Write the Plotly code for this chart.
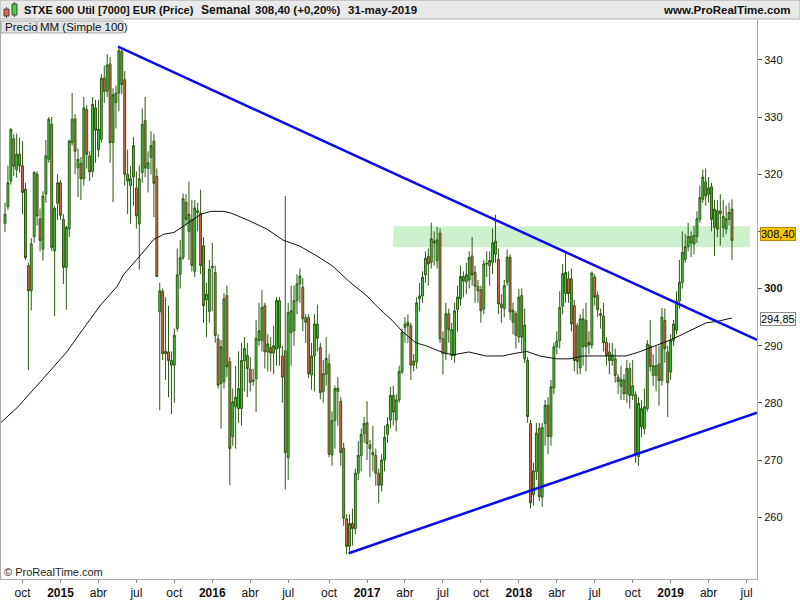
import plotly.graph_objects as go
import pandas as pd

# ---------------- data (weekly candles) ----------------
opens = [311.4, 314.3, 318.8, 326.2, 320.8, 323.5, 321.5, 317.4, 304.0, 299.6,
         309.1, 320.0, 312.2, 306.9, 316.5, 322.6, 328.7, 306.6, 314.9, 318.5,
         312.1, 303.7, 310.4, 325.5, 329.7, 321.1, 321.9, 319.2, 331.3, 323.2,
         320.5, 331.6, 324.3, 326.1, 336.8, 334.5, 339.3, 325.5, 332.5, 334.2,
         341.5, 336.5, 320.0, 318.0, 319.5, 317.6, 311.3, 320.3, 329.4, 321.0,
         322.9, 325.8, 319.6, 295.9, 299.5, 288.6, 288.9, 287.4, 286.6, 293.0,
         302.5, 305.4, 315.1, 310.0, 312.1, 303.0, 313.6, 313.2, 307.5, 298.0,
         296.0, 303.6, 302.8, 291.2, 283.4, 283.7, 298.8, 287.2, 274.1, 279.3,
         279.0, 279.0, 287.4, 288.3, 285.9, 284.0, 284.2, 290.9, 290.9, 297.0,
         288.9, 289.7, 288.7, 289.4, 297.9, 288.2, 289.1, 270.4, 292.3, 292.6,
         297.9, 300.8, 300.2, 294.9, 294.9, 284.9, 288.2, 293.8, 289.7, 282.0,
         285.0, 286.8, 270.9, 276.9, 282.0, 280.3, 272.1, 259.7, 254.9, 258.9,
         258.0, 267.7, 270.8, 274.6, 276.5, 272.7, 271.3, 270.8, 267.7, 265.6,
         270.0, 274.5, 277.0, 281.3, 277.0, 280.5, 285.4, 293.2, 294.1, 293.5,
         286.6, 287.2, 298.2, 298.7, 302.4, 305.6, 304.6, 308.3, 304.9, 309.7,
         291.2, 288.6, 295.6, 288.3, 288.3, 296.3, 298.2, 302.1, 301.2, 301.5,
         305.7, 302.8, 300.4, 299.8, 296.4, 304.3, 304.0, 304.6, 306.0, 305.1,
         297.3, 296.5, 301.1, 305.5, 294.1, 295.6, 291.5, 298.8, 287.7, 287.4,
         276.4, 263.9, 268.0, 275.5, 263.5, 276.4, 279.6, 274.1, 282.6, 289.8,
         290.9, 296.9, 299.1, 301.7, 301.7, 297.0, 293.5, 286.1, 289.8, 294.4,
         290.1, 290.1, 302.0, 298.8, 295.6, 295.2, 290.6, 288.9, 287.4, 287.7,
         284.5, 282.9, 284.0, 281.6, 286.0, 281.3, 281.4, 270.6, 275.8, 275.5,
         279.0, 290.0, 284.8, 284.8, 286.8, 283.9, 294.4, 288.9, 285.4, 290.9,
         292.7, 297.8, 301.1, 305.1, 307.3, 309.1, 307.8, 309.1, 312.1, 315.6,
         318.6, 316.5, 317.8, 310.7, 313.6, 313.6, 310.7, 310.4, 312.1, 313.9]

highs = [315.0, 321.5, 328.1, 327.0, 327.1, 326.4, 325.8, 318.5, 304.5, 308.8,
         320.5, 320.5, 314.0, 317.0, 326.0, 330.0, 330.0, 314.5, 320.0, 319.0,
         313.0, 311.0, 326.0, 334.2, 330.5, 324.5, 323.0, 333.5, 332.0, 324.0,
         333.5, 333.0, 333.0, 337.5, 339.0, 341.0, 340.5, 335.0, 335.5, 342.3,
         342.0, 338.0, 324.3, 321.5, 326.5, 320.5, 321.5, 331.5, 333.5, 324.0,
         327.5, 327.0, 321.0, 301.0, 300.0, 298.5, 297.0, 289.0, 293.0, 307.0,
         308.5, 316.6, 316.5, 318.7, 315.5, 315.5, 315.0, 317.3, 309.0, 301.0,
         305.0, 308.0, 304.0, 292.0, 291.0, 299.2, 300.5, 288.0, 282.5, 286.5,
         289.0, 290.5, 291.5, 290.5, 288.0, 286.0, 294.5, 297.5, 299.7, 297.5,
         292.0, 291.5, 293.5, 298.5, 298.5, 290.0, 316.2, 297.5, 300.5, 300.5,
         302.5, 303.5, 301.8, 295.5, 295.5, 290.5, 295.5, 297.2, 290.5, 287.5,
         291.5, 288.5, 278.5, 283.0, 284.5, 281.0, 273.0, 260.5, 260.5, 261.5,
         268.5, 273.3, 275.5, 277.5, 280.3, 273.5, 276.0, 272.0, 268.5, 271.0,
         276.0, 277.5, 282.8, 283.0, 281.5, 286.5, 293.0, 295.0, 295.5, 294.0,
         288.5, 298.5, 301.0, 303.0, 306.5, 307.0, 311.5, 310.0, 310.8, 310.5,
         292.5, 297.5, 296.5, 294.0, 297.5, 300.5, 304.0, 303.0, 304.5, 306.5,
         309.0, 304.0, 301.5, 300.5, 305.0, 306.5, 306.5, 310.5, 312.9, 307.0,
         299.0, 301.5, 306.8, 306.0, 297.5, 296.0, 299.9, 300.0, 296.5, 288.0,
         277.0, 269.5, 276.5, 276.5, 276.5, 280.5, 281.0, 284.0, 290.5, 292.5,
         299.5, 304.3, 306.5, 303.0, 303.5, 298.0, 294.0, 295.5, 296.5, 297.5,
         292.5, 303.0, 302.5, 299.5, 296.5, 297.5, 291.5, 290.5, 290.5, 289.5,
         285.0, 286.5, 285.0, 287.5, 287.0, 287.5, 282.0, 281.0, 280.5, 282.5,
         291.0, 294.5, 288.5, 290.0, 290.0, 296.6, 296.5, 290.0, 292.0, 294.5,
         299.5, 305.0, 310.0, 309.5, 311.5, 310.0, 311.0, 313.5, 318.0, 320.8,
         321.0, 319.5, 318.5, 315.5, 315.5, 316.5, 315.5, 314.5, 315.0, 315.6]

lows = [309.9, 313.8, 318.2, 319.7, 319.4, 320.3, 313.0, 305.0, 285.7, 296.2,
        308.0, 311.0, 306.5, 304.9, 315.0, 322.0, 306.5, 295.2, 312.0, 312.0,
        300.8, 296.3, 309.0, 325.0, 320.0, 316.0, 315.5, 318.0, 321.0, 318.8,
        319.5, 322.0, 323.0, 325.5, 332.5, 333.5, 322.0, 315.1, 328.0, 331.0,
        334.0, 318.0, 313.0, 311.3, 314.5, 310.5, 303.3, 318.5, 319.5, 316.8,
        320.0, 312.5, 302.0, 278.7, 287.5, 284.0, 281.0, 278.0, 280.0, 292.5,
        300.0, 305.0, 311.0, 305.0, 303.0, 302.0, 310.0, 302.5, 294.0, 291.5,
        294.0, 296.0, 290.5, 282.5, 275.5, 282.5, 284.5, 265.6, 272.5, 272.0,
        276.5, 276.0, 282.0, 281.0, 282.0, 283.0, 278.4, 290.0, 289.0, 286.0,
        285.5, 285.5, 285.0, 286.5, 286.5, 280.0, 264.8, 266.5, 286.5, 290.0,
        295.5, 297.5, 292.5, 290.5, 284.3, 282.3, 282.0, 289.0, 280.6, 280.0,
        283.0, 270.5, 269.0, 272.0, 276.0, 269.0, 258.5, 253.5, 254.0, 255.0,
        257.0, 266.5, 268.0, 273.0, 270.0, 267.0, 268.0, 265.5, 262.5, 264.5,
        268.0, 273.0, 275.5, 276.0, 275.0, 280.0, 285.0, 290.5, 290.5, 284.0,
        285.5, 286.0, 296.0, 297.5, 301.0, 300.5, 303.5, 304.0, 303.5, 290.5,
        285.0, 287.5, 290.5, 287.5, 287.0, 292.5, 297.0, 298.5, 299.0, 300.0,
        300.5, 297.5, 297.5, 294.0, 295.5, 302.0, 300.5, 302.5, 304.5, 295.5,
        294.0, 295.0, 300.5, 294.5, 292.0, 289.5, 290.5, 289.0, 287.0, 276.5,
        261.5, 262.0, 266.5, 262.8, 261.8, 272.5, 271.0, 272.5, 281.5, 288.5,
        289.5, 295.5, 297.5, 297.5, 292.5, 285.5, 285.0, 285.0, 286.5, 285.5,
        288.5, 289.5, 297.0, 295.0, 293.0, 289.0, 286.5, 285.0, 286.5, 283.5,
        281.5, 280.5, 280.5, 280.0, 279.0, 280.5, 269.5, 269.0, 274.0, 274.5,
        278.5, 285.5, 283.0, 282.0, 279.5, 283.0, 287.0, 277.5, 284.0, 290.0,
        292.0, 296.5, 300.0, 304.5, 306.5, 305.5, 306.0, 308.0, 311.5, 315.0,
        314.5, 315.0, 310.0, 305.7, 309.0, 307.5, 309.0, 309.5, 311.0, 305.0]

closes = [313.0, 318.5, 327.8, 321.4, 323.5, 321.5, 316.8, 305.4, 299.6, 307.8,
          320.3, 312.7, 308.4, 316.2, 323.2, 329.6, 307.2, 314.0, 318.5, 312.8,
          303.7, 310.7, 325.8, 329.6, 324.0, 322.6, 319.2, 331.6, 323.5, 320.4,
          332.2, 327.7, 327.9, 336.8, 334.5, 339.1, 325.5, 333.9, 334.2, 341.6,
          335.7, 320.0, 318.8, 319.2, 325.0, 312.7, 319.2, 328.7, 321.1, 322.0,
          325.0, 318.4, 302.1, 299.6, 288.6, 289.0, 287.4, 286.6, 291.8, 302.4,
          305.4, 315.7, 312.1, 313.0, 304.0, 314.1, 313.3, 304.0, 297.0, 299.0,
          303.4, 303.9, 291.8, 283.1, 289.8, 298.2, 286.3, 272.0, 280.2, 281.0,
          282.5, 287.4, 289.5, 286.0, 283.6, 283.8, 291.3, 292.6, 296.7, 288.9,
          290.3, 288.7, 290.0, 297.9, 289.6, 284.5, 271.3, 295.8, 296.1, 297.9,
          300.8, 302.2, 294.7, 294.1, 285.1, 288.2, 293.8, 291.3, 281.8, 285.1,
          287.8, 271.0, 276.9, 282.5, 282.6, 271.3, 259.8, 254.9, 258.9, 258.0,
          267.7, 270.8, 274.5, 276.4, 272.9, 272.0, 270.9, 267.7, 265.6, 270.0,
          274.0, 276.2, 281.3, 278.4, 280.5, 285.5, 292.4, 293.8, 293.5, 286.6,
          287.3, 297.5, 298.7, 302.0, 305.3, 304.3, 308.7, 308.0, 308.5, 291.2,
          288.6, 295.6, 292.8, 292.8, 296.1, 298.5, 302.1, 301.3, 302.4, 305.4,
          302.4, 300.4, 299.6, 296.1, 304.3, 304.4, 304.9, 308.0, 308.3, 297.3,
          296.7, 300.5, 305.5, 295.9, 296.2, 291.8, 298.5, 291.5, 293.6, 277.6,
          262.5, 268.1, 274.7, 263.6, 275.7, 279.6, 274.1, 282.8, 289.8, 290.8,
          296.7, 302.6, 302.8, 299.1, 293.8, 287.4, 287.2, 294.7, 294.7, 289.8,
          290.6, 302.7, 298.5, 296.3, 295.3, 290.5, 288.3, 287.4, 288.4, 284.8,
          283.7, 284.1, 281.6, 286.0, 281.3, 283.0, 270.9, 279.9, 279.0, 279.3,
          290.3, 286.4, 286.5, 286.5, 283.9, 295.0, 289.5, 283.5, 290.9, 293.8,
          297.8, 301.1, 306.3, 307.3, 309.1, 308.0, 309.3, 312.2, 315.9, 319.5,
          316.2, 317.6, 312.1, 313.9, 310.4, 313.1, 312.6, 312.2, 313.3, 308.4]

last_date = "2019-05-31"

# 100-week simple moving average
ma_dates = ["2014-08-10", "2014-09-22", "2014-11-21", "2015-01-17", "2015-02-25",
            "2015-04-07", "2015-05-18", "2015-06-03", "2015-07-09", "2015-08-14",
            "2015-09-07", "2015-10-01", "2015-11-11", "2015-12-05", "2015-12-28",
            "2016-01-29", "2016-02-15", "2016-03-10", "2016-03-31", "2016-05-11",
            "2016-06-18", "2016-07-29", "2016-09-08", "2016-10-16", "2016-11-26",
            "2017-01-06", "2017-01-28", "2017-03-09", "2017-04-02", "2017-05-03",
            "2017-05-27", "2017-07-07", "2017-07-31", "2017-09-07", "2017-10-18",
            "2017-11-28", "2017-12-22", "2018-01-24", "2018-02-24", "2018-04-06",
            "2018-05-07", "2018-06-08", "2018-07-19", "2018-08-28", "2018-09-19",
            "2018-10-20", "2018-11-23", "2018-12-24", "2019-01-24", "2019-02-26",
            "2019-03-30", "2019-04-29", "2019-05-31"]
ma_values = [276.4, 279.3, 284.2, 288.9, 292.9,
             297.0, 300.4, 302.5, 305.5, 308.6,
             309.5, 309.8, 311.8, 313.0, 313.5,
             313.5, 313.2, 312.5, 311.8, 310.4,
             308.5, 307.4, 305.7, 303.9, 301.1,
             298.7, 297.0, 294.3, 292.4, 290.5,
             290.0, 288.8, 288.4, 288.9, 288.2,
             288.2, 288.6, 289.0, 288.2, 287.7,
             287.7, 288.2, 288.2, 288.2, 288.2,
             288.9, 289.8, 290.7, 291.7, 292.9,
             294.0, 294.3, 294.85]

# drawn trend lines (start / end date and price)
resist_dates = ["2015-05-20", "2019-07-30"]
resist_prices = [342.3, 291.0]
support_dates = ["2016-11-23", "2019-07-30"]
support_prices = [253.7, 278.3]

# green resistance zone
zone_dates = ["2017-03-10", "2019-07-13"]
zone_prices = [307.2, 310.9]

y_ticks = [260, 270, 280, 290, 300, 310, 320, 330, 340]
month_names = {4: "abr", 7: "jul", 10: "oct"}

last_label = "308,40"
ma_label = "294,85"

# ---------------- figure ----------------
W, H = 800, 600
ML, MR, MT, MB = 0, 43, 20, 19
PW, PH = W - ML - MR, H - MT - MB

def pxx(x):
    return (x - ML) / PW

def pxy(y):
    return (H - MB - y) / PH

FONT = "Liberation Sans, Arial, Helvetica, sans-serif"

dates = pd.date_range(end=last_date, periods=len(closes), freq="W-FRI")

fig = go.Figure()
fig.add_trace(go.Candlestick(
    x=dates, open=opens, high=highs, low=lows, close=closes,
    increasing=dict(line=dict(color="#2c5a12", width=1), fillcolor="#3fd23f"),
    decreasing=dict(line=dict(color="#2c5a12", width=1), fillcolor="#e8644e"),
    whiskerwidth=0, showlegend=False, hoverinfo="skip"))

fig.add_trace(go.Scatter(x=ma_dates, y=ma_values, mode="lines",
                         line=dict(color="#111111", width=1),
                         showlegend=False, hoverinfo="skip"))

for dts, prs in [(resist_dates, resist_prices), (support_dates, support_prices)]:
    fig.add_trace(go.Scatter(x=dts, y=prs, mode="lines",
                             line=dict(color="#0a0aee", width=2.5),
                             showlegend=False, hoverinfo="skip"))

shapes = []
shapes.append(dict(type="rect", xref="x", yref="y", layer="below",
                   x0=zone_dates[0], x1=zone_dates[1], y0=zone_prices[0], y1=zone_prices[1],
                   fillcolor="#cdf1cd", line=dict(width=0)))
# header bar
shapes.append(dict(type="rect", xref="paper", yref="paper", layer="above",
                   x0=pxx(0), x1=pxx(800), y0=pxy(19), y1=pxy(0),
                   fillcolor="#e9e9e9", line=dict(color="#b0b0b0", width=1)))
# small candle icon
shapes.append(dict(type="line", xref="paper", yref="paper", x0=pxx(6.5), x1=pxx(6.5),
                   y0=pxy(18), y1=pxy(7), line=dict(color="#444", width=1)))
shapes.append(dict(type="rect", xref="paper", yref="paper", x0=pxx(4), x1=pxx(9),
                   y0=pxy(16), y1=pxy(9), fillcolor="#e8644e", line=dict(color="#444", width=1)))
shapes.append(dict(type="line", xref="paper", yref="paper", x0=pxx(14.5), x1=pxx(14.5),
                   y0=pxy(17), y1=pxy(2), line=dict(color="#444", width=1)))
shapes.append(dict(type="rect", xref="paper", yref="paper", x0=pxx(12), x1=pxx(17),
                   y0=pxy(15), y1=pxy(4), fillcolor="#3fd23f", line=dict(color="#444", width=1)))
# legend boxes
shapes.append(dict(type="rect", xref="paper", yref="paper", x0=pxx(1), x1=pxx(36),
                   y0=pxy(33), y1=pxy(21), fillcolor="#e4e4e4", line=dict(color="#aaaaaa", width=1)))
shapes.append(dict(type="rect", xref="paper", yref="paper", x0=pxx(37), x1=pxx(123),
                   y0=pxy(33), y1=pxy(21), fillcolor="#e4e4e4", line=dict(color="#aaaaaa", width=1)))
# left border
shapes.append(dict(type="line", xref="paper", yref="paper", x0=pxx(0.5), x1=pxx(0.5),
                   y0=0, y1=pxy(20), line=dict(color="#aaaaaa", width=1)))

annotations = []
def text(x, y, s, size=12, bold=False, anchor="left", color="#111"):
    annotations.append(dict(xref="paper", yref="paper", x=pxx(x), y=pxy(y),
                            xanchor=anchor, yanchor="middle", showarrow=False,
                            text=("<b>%s</b>" % s) if bold else s,
                            font=dict(family=FONT, size=size, color=color)))

text(22, 10, "STXE 600 Util [7000] EUR (Price)", 11, True)
text(199, 10, "Semanal", 12, True)
text(253, 10, "308,40 (+0,20%)", 11.5, True)
text(346, 10, "31-may-2019", 11.5, True)
text(793, 10, "www.ProRealTime.com", 11.5, True, anchor="right")
text(3, 27, "Precio", 11.5)
text(38, 27, "MM (Simple 100)", 11.5)
text(2, 574, "© ProRealTime.com", 11, color="#222")

# price labels at the right
annotations.append(dict(xref="paper", yref="paper", x=pxx(760), y=pxy(235),
                        xanchor="left", yanchor="middle", showarrow=False,
                        text=last_label, font=dict(family=FONT, size=11, color="#000"),
                        bgcolor="#f7c600", bordercolor="#b08a00", borderwidth=1, borderpad=0))
annotations.append(dict(xref="paper", yref="paper", x=pxx(760), y=pxy(320),
                        xanchor="left", yanchor="middle", showarrow=False,
                        text=ma_label, font=dict(family=FONT, size=11, color="#000"),
                        bgcolor="#ffffff", bordercolor="#8a8a8a", borderwidth=1, borderpad=0))

# x ticks: first weekly candle of each quarter month
all_weeks = pd.date_range(start=dates[0], end="2019-07-31", freq="W-FRI")
tickvals, ticktext = [], []
seen = set()
for d in all_weeks:
    if d.month in (1, 4, 7, 10) and (d.year, d.month) not in seen:
        seen.add((d.year, d.month))
        tickvals.append(d)
        ticktext.append("<b>%d</b>" % d.year if d.month == 1 else month_names[d.month])

fig.update_layout(
    width=W, height=H, margin=dict(l=ML, r=MR, t=MT, b=MB),
    paper_bgcolor="white", plot_bgcolor="white",
    showlegend=False, shapes=shapes, annotations=annotations,
    boxgap=0.08, hovermode=False,
    xaxis=dict(type="date", range=["2014-08-10", "2019-07-30"],
               rangeslider=dict(visible=False),
               showgrid=False, zeroline=False,
               showline=True, linecolor="#aaaaaa", linewidth=1,
               ticks="outside", ticklen=3, tickcolor="#888888",
               tickvals=tickvals, ticktext=ticktext,
               tickfont=dict(family=FONT, size=12, color="#111")),
    yaxis=dict(side="right", range=[249.19, 346.97],
               showgrid=False, zeroline=False,
               showline=True, linecolor="#aaaaaa", linewidth=1,
               ticks="outside", ticklen=4, tickcolor="#555555",
               tickvals=y_ticks,
               ticktext=["<b>%d</b>" % v if v == 300 else str(v) for v in y_ticks],
               tickfont=dict(family=FONT, size=11, color="#111")),
)

fig.write_html("out.html", config={"displayModeBar": False},
               post_script="document.body.style.margin='0';document.body.style.overflow='hidden';")
